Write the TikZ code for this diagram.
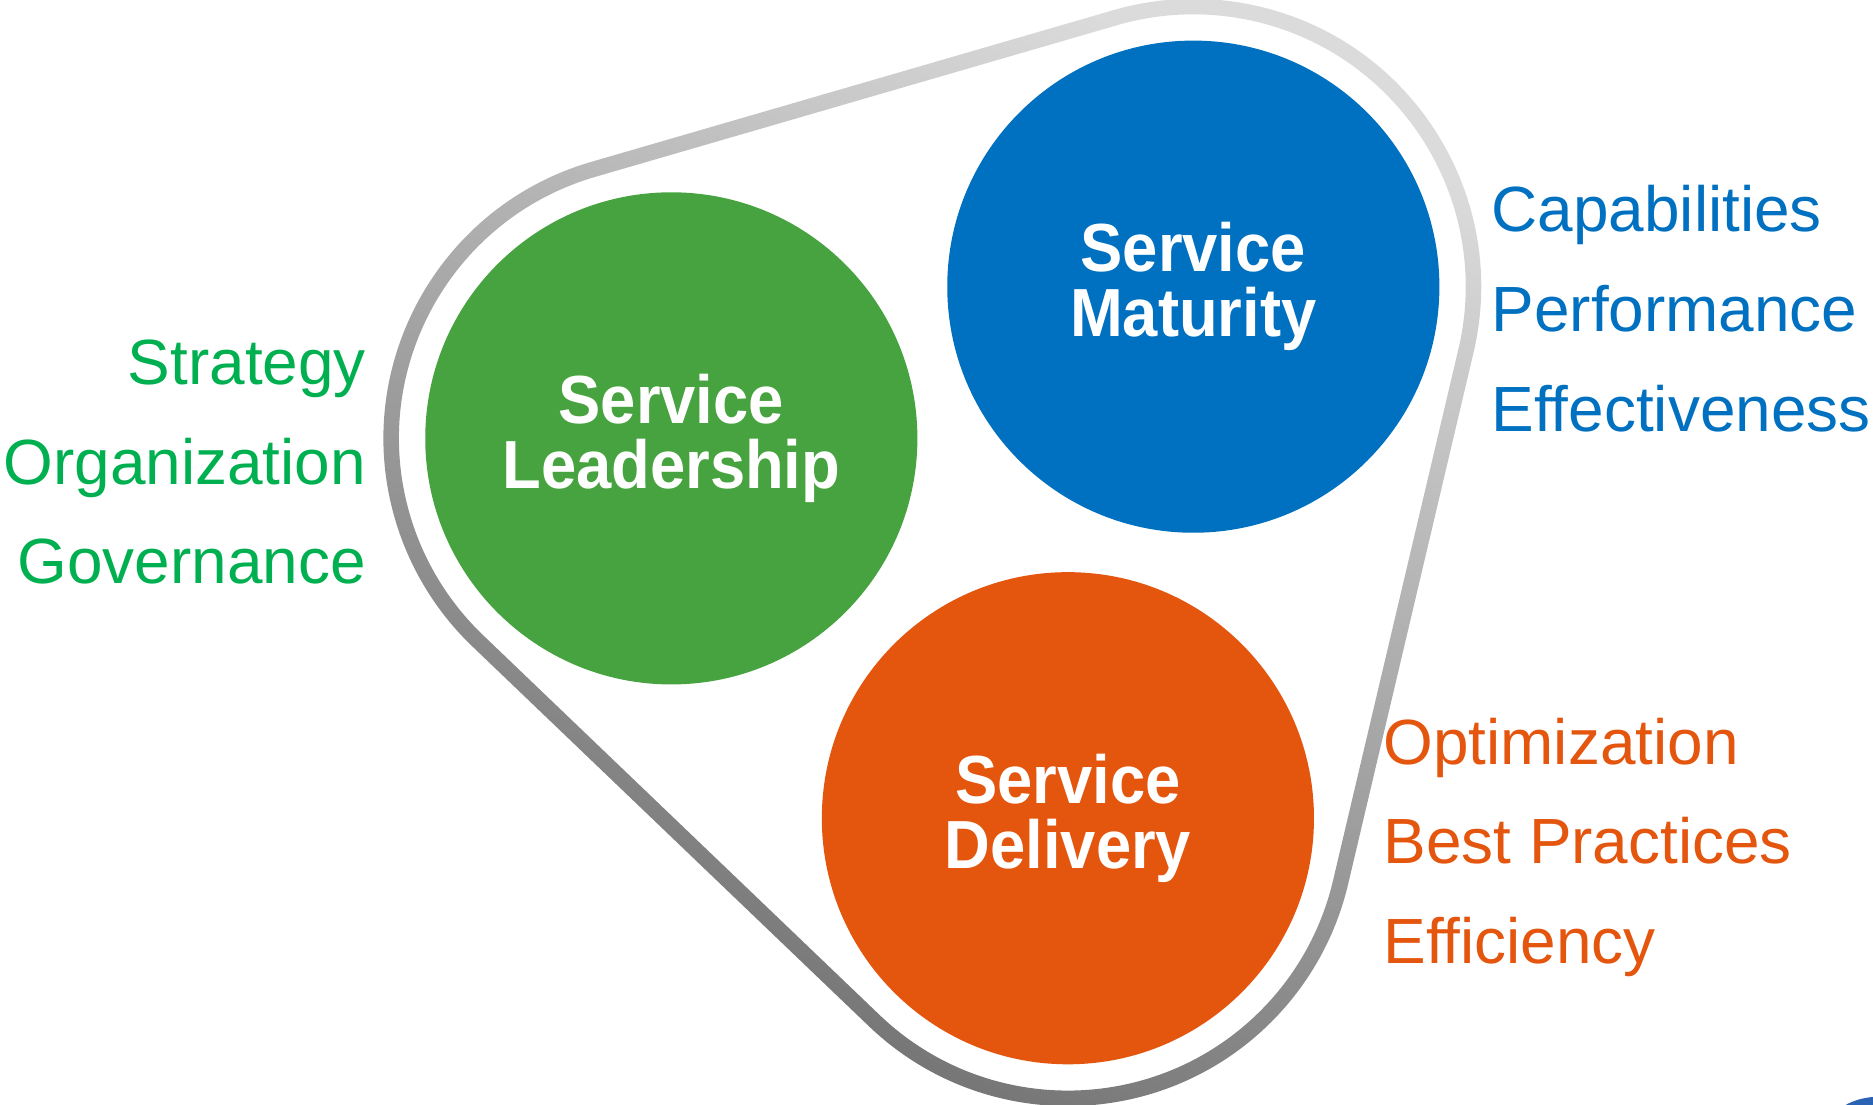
\documentclass[tikz,border=0pt]{standalone}
\usepackage{fontspec}
\setmainfont{Liberation Sans}
\newfontfamily\titlefont[FakeStretch=0.93]{Liberation Sans}
\usetikzlibrary{calc}

\definecolor{leadgreen}{HTML}{47A33F}
\definecolor{matblue}{HTML}{0070C0}
\definecolor{delorange}{HTML}{E4550E}
\definecolor{txtgreen}{HTML}{00B050}
\definecolor{txtblue}{HTML}{0070C0}
\definecolor{txtorange}{HTML}{E4550E}
\definecolor{bandlight}{gray}{0.86}
\definecolor{banddark}{gray}{0.42}
\definecolor{cornerblue}{HTML}{2A63B4}

\tikzset{
  disc/.style={circle, minimum size=412pt, inner sep=0pt, text=white,
    align=center, font=\titlefont\bfseries\fontsize{57}{54.5}\selectfont},
  keyword/.style={inner sep=0pt, font=\fontsize{53.5}{64}\selectfont},
}

% rounded triangle enclosing the three discs, offset by #1
\newcommand\hullpath[1]{%
  ($(G)+(106.2:#1pt)$) arc[start angle=106.2, end angle=226.23, radius=#1pt]
  -- ($(O)+(226.23:#1pt)$) arc[start angle=226.23, end angle=346.72, radius=#1pt]
  -- ($(B)+(-13.28:#1pt)$) arc[start angle=-13.28, end angle=106.2, radius=#1pt]
  -- cycle}

\begin{document}
\begin{tikzpicture}[x=1pt, y=1pt]
  \useasboundingbox (0,0) rectangle (1568,925);

  \coordinate (G) at (562,558);
  \coordinate (B) at (999,685);
  \coordinate (O) at (894,240);

  % grey band around the discs
  \shade[even odd rule, top color=bandlight, bottom color=banddark,
         shading angle=-25] \hullpath{241} \hullpath{228};

  % the three discs
  \node[disc, fill=leadgreen] (lead) at (G) {Service\\Leadership};
  \node[disc, fill=matblue]   (mat)  at (B) {Service\\Maturity};
  \node[disc, fill=delorange] (del)  at (O) {Service\\Delivery};

  % keywords, left group
  \node[keyword, text=txtgreen, anchor=base east] (strat) at (306.5,602.7) {Strategy};
  \node[keyword, text=txtgreen, anchor=base east] (org)   at (306.5,519.5) {Organization};
  \node[keyword, text=txtgreen, anchor=base east] (gov)   at (306.5,436.5) {Governance};

  % keywords, upper right group
  \node[keyword, text=txtblue, anchor=base west] (cap)  at (1248.5,731) {Capabilities};
  \node[keyword, text=txtblue, anchor=base west] (perf) at (1248.5,647.3) {Performance};
  \node[keyword, text=txtblue, anchor=base west] (eff)  at (1248.5,563.6) {Effectiveness};

  % keywords, lower right group
  \node[keyword, text=txtorange, anchor=base west] (opt)  at (1158,285.1) {Optimization};
  \node[keyword, text=txtorange, anchor=base west] (best) at (1158,202.2) {Best Practices};
  \node[keyword, text=txtorange, anchor=base west] (effi) at (1158,118.5) {Efficiency};

  % edge of a shape cut off by the lower right corner
  \fill[cornerblue] (1575,-14) ellipse [x radius=40pt, y radius=21pt];
\end{tikzpicture}
\end{document}
